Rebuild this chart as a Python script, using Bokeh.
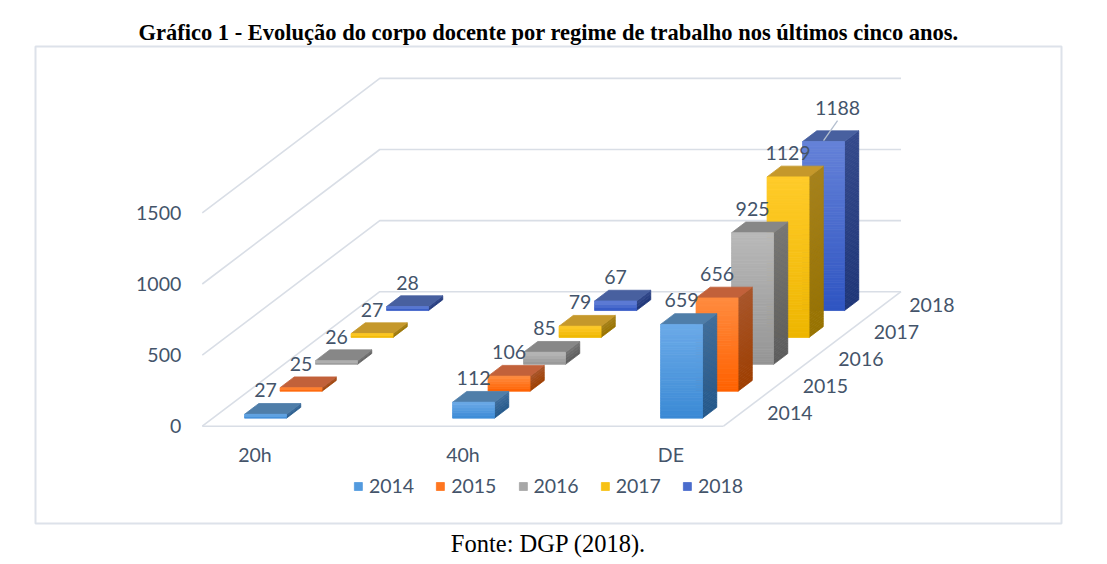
from bokeh.plotting import figure
from bokeh.models import Range1d, ColumnDataSource, Legend, LegendItem, Title
from bokeh.core.properties import value
from bokeh.embed import file_html
from bokeh.resources import INLINE

# data
categories = ["20h", "40h", "DE"]
years = ["2014", "2015", "2016", "2017", "2018"]
d2014 = [27, 112, 659]
d2015 = [25, 106, 656]
d2016 = [26, 85, 925]
d2017 = [27, 79, 1129]
d2018 = [28, 67, 1188]
series = [d2014, d2015, d2016, d2017, d2018]
y_ticks = [0, 500, 1000, 1500]

# colours per year: front top, front bottom, side top, side bottom, top face
faces = [
    ("#6baae8", "#3b8ad5", "#3f6e9c", "#24588a", "#4f7ea9"),
    ("#ff8b3f", "#ff6100", "#a8552a", "#9e3e00", "#c2613a"),
    ("#b9b9b9", "#959595", "#767676", "#5c5c5c", "#878787"),
    ("#ffcb2a", "#eeb600", "#a7821a", "#977200", "#c5982b"),
    ("#6582d8", "#2f55c2", "#34498b", "#1f3678", "#48609f"),
]
TEXT = "#44546a"
GRID = "#d9dee6"
FONT = value("Lato")
FS = "19.5px"

# oblique projection (category units across, value units up)
PX_CAT = 208.0          # px per category step
PX_VAL = 71.1 / 500     # px per value unit
DX = 35.5 / PX_CAT      # shift of one depth row, in category units
DY = 26.9 / PX_VAL      # shift of one depth row, in value units
PAD = 0.253             # floor beyond outer categories
C0, C1 = -PAD, len(categories) - 1 + PAD
ZN = len(years)
BAR_W = 42 / PX_CAT
BAR_Z0, BAR_Z1 = 0.3, 0.7


def proj(c, z, v):
    return c + z * DX, v + z * DY


def hexrgb(h):
    return [int(h[i:i + 2], 16) for i in (1, 3, 5)]


def mix(a, b, t):
    ra, rb = hexrgb(a), hexrgb(b)
    return "#%02x%02x%02x" % tuple(round(x + (y - x) * t) for x, y in zip(ra, rb))


# frame = light grey box; origin at category 0 / value 0 on front plane
W, H = 1100, 560
BOX_L, BOX_T, BOX_W, BOX_H = 35, 46, 1026, 477
ORG_X, ORG_Y = 254.4 - BOX_L, 425.7 - BOX_T
x_range = Range1d(-ORG_X / PX_CAT, (BOX_W - ORG_X) / PX_CAT)
y_range = Range1d(-(BOX_H - ORG_Y) / PX_VAL, ORG_Y / PX_VAL)

p = figure(width=W, height=H, x_range=x_range, y_range=y_range,
           output_backend="svg", toolbar_location=None,
           min_border_left=BOX_L, min_border_right=W - BOX_L - BOX_W,
           min_border_top=BOX_T, min_border_bottom=H - BOX_T - BOX_H)
p.axis.visible = False
p.grid.visible = False
p.outline_line_color = "#dde2ea"
p.outline_line_width = 2
p.background_fill_color = "white"
p.border_fill_color = "white"

p.add_layout(Title(text="Gráfico 1 - Evolução do corpo docente por regime de trabalho nos últimos cinco anos.",
                   align="center", text_font="Liberation Serif", text_font_style="bold",
                   text_font_size="22.5px", text_color="black", standoff=3), "above")
p.add_layout(Title(text="Fonte: DGP (2018).", align="center", text_font="Liberation Serif",
                   text_font_style="normal", text_font_size="24.5px", text_color="black",
                   standoff=8), "below")

# walls / floor grid
gx, gy = [], []
for t in y_ticks:
    pts = [proj(C0, 0, t), proj(C0, ZN, t), proj(C1, ZN, t)]
    gx.append([q[0] for q in pts])
    gy.append([q[1] for q in pts])
for a, b in [((C0, 0, 0), (C1, 0, 0)), ((C1, 0, 0), (C1, ZN, 0))]:
    pa, pb = proj(*a), proj(*b)
    gx.append([pa[0], pb[0]])
    gy.append([pa[1], pb[1]])
p.multi_line(gx, gy, line_color=GRID, line_width=1.6)

# bars, back rows first; faces shaded in thin strips for the gradient
STRIP_PX = 2.5
fx, fy, fc = [], [], []
legend_idx = {}


def add_face(pts, col):
    pp = [proj(*q) for q in pts]
    fx.append([q[0] for q in pp])
    fy.append([q[1] for q in pp])
    fc.append(col)


for s in reversed(range(ZN)):
    ft, fb, st, sb, tp = faces[s]
    zf, zb = s + BAR_Z0, s + BAR_Z1
    for c, v in enumerate(series[s]):
        l, r = c - BAR_W / 2, c + BAR_W / 2
        n = max(2, int(v * PX_VAL / STRIP_PX))
        for k in range(n):
            v0, v1 = v * k / n, v * (k + 1) / n
            add_face([(r, zf, v0), (r, zb, v0), (r, zb, v1), (r, zf, v1)], mix(sb, st, (k + 0.5) / n))
        add_face([(l, zf, v), (r, zf, v), (r, zb, v), (l, zb, v)], tp)
        for k in range(n):
            v0, v1 = v * k / n, v * (k + 1) / n
            if k == n // 2 and c == len(categories) - 1:
                legend_idx[s] = len(fc)
            add_face([(l, zf, v0), (r, zf, v0), (r, zf, v1), (l, zf, v1)], mix(fb, ft, (k + 0.5) / n))

bars = p.patches(xs="xs", ys="ys", fill_color="c", line_color="c", line_width=0.8,
                 source=ColumnDataSource(dict(xs=fx, ys=fy, c=fc)))

# value labels
lx, ly, lt = [], [], []
nudge = {(2, 4): (14, -10)}   # DE 2018 label moved aside with a leader line
for s in range(ZN):
    for c, v in enumerate(series[s]):
        x0, y0 = proj(c, s + BAR_Z0, v)
        dx, dy = nudge.get((c, s), (0, 0))
        lx.append(x0 + dx / PX_CAT)
        ly.append(y0 + (24 - dy) / PX_VAL)
        lt.append(str(v))
        if (c, s) in nudge:
            p.segment(x0=[x0], y0=[y0 + 1 / PX_VAL], x1=[x0 + dx / PX_CAT],
                      y1=[y0 + (24 - dy - 13) / PX_VAL], line_color="#b4bfcf", line_width=1.3)
p.text(lx, ly, text=lt, text_font=FONT, text_font_size=FS, text_color=TEXT,
       text_align="center", text_baseline="middle")

# value axis labels on the left wall
p.text([C0 - 21 / PX_CAT] * len(y_ticks), y_ticks, text=[str(t) for t in y_ticks],
       text_font=FONT, text_font_size=FS, text_color=TEXT,
       text_align="right", text_baseline="middle")

# category labels under the floor
p.text(list(range(len(categories))), [-28 / PX_VAL] * len(categories), text=categories,
       text_font=FONT, text_font_size=FS, text_color=TEXT,
       text_align="center", text_baseline="middle")

# depth (year) labels to the right of the floor
yx = [proj(C1, s + 0.5, 0)[0] + 26 / PX_CAT for s in range(ZN)]
yy = [proj(C1, s + 0.5, 0)[1] for s in range(ZN)]
p.text(yx, yy, text=years, text_font=FONT, text_font_size=FS, text_color=TEXT,
       text_align="left", text_baseline="middle")

items = [LegendItem(label=years[s], renderers=[bars], index=legend_idx[s]) for s in range(ZN)]
legend = Legend(items=items, orientation="horizontal", location="bottom_center",
                label_text_font="Lato", label_text_font_size=FS, label_text_color=TEXT,
                glyph_width=10, glyph_height=10, label_standoff=6, spacing=21,
                padding=0, margin=26, border_line_alpha=0, background_fill_alpha=0)
p.add_layout(legend)

open("out.html", "w").write(file_html(p, INLINE))
